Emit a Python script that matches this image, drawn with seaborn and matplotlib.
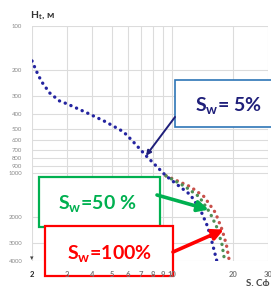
import matplotlib
matplotlib.use("Agg")
import matplotlib.pyplot as plt
import matplotlib.ticker as mticker
from matplotlib.patches import Rectangle
import seaborn as sns

# S_w = 5 % curve (x = S, y = H_t in metres)
sw5_s = [2.0, 2.11, 2.23, 2.45, 2.74, 3.0, 3.76, 4.66, 5.71, 6.26, 7.4, 9.3,
         10.6, 12.3, 13.8, 15.0, 15.8, 16.7]
sw5_h = [173, 205, 239, 286, 324, 340, 391, 450, 526, 597, 766, 1050,
         1208, 1413, 1786, 2328, 2993, 4030]

# S_w = 50 % and 100 % split off the 5 % curve near 1000 m
sw50_s = [9.3, 11.6, 13.6, 15.4, 16.7, 17.7, 18.2]
sw50_h = [1050, 1245, 1456, 1871, 2365, 3090, 3914]
sw100_s = [9.3, 12.3, 14.4, 16.4, 17.7, 18.6, 19.2]
sw100_h = [1050, 1245, 1456, 1871, 2440, 3090, 3914]

x_ticks = [2, 3, 4, 5, 6, 7, 8, 9, 10, 20, 30]
y_ticks = [100, 200, 300, 400, 500, 600, 700, 800, 900, 1000, 2000, 3000, 4000]

W, H = 271, 286

sns.set_style("white")
plt.rcParams["font.family"] = ["Lato", "DejaVu Sans"]
plt.rcParams["mathtext.fontset"] = "custom"
plt.rcParams["mathtext.rm"] = "Lato:bold"
plt.rcParams["mathtext.bf"] = "Lato:bold"

fig = plt.figure(figsize=(W / 100, H / 100), dpi=100)
rect = [32 / W, 1 - 261 / H, 236 / W, 235 / H]
ax = fig.add_axes(rect)


def px(x, y):
    return (x / W, 1 - y / H)


dots = dict(linestyle=(0, (0.05, 1.8)), dash_capstyle="round", linewidth=2.4)
sns.lineplot(x=sw100_s, y=sw100_h, sort=False, estimator=None, color="#C8504A", ax=ax, **dots)
sns.lineplot(x=sw50_s, y=sw50_h, sort=False, estimator=None, color="#4E8F55", ax=ax, **dots)
sns.lineplot(x=sw5_s, y=sw5_h, sort=False, estimator=None, color="#2424A0", ax=ax, **dots)

ax.set_xscale("log")
ax.set_yscale("log")
ax.set_xlim(2, 30)
ax.set_ylim(4000, 100)
ax.xaxis.set_major_locator(mticker.FixedLocator(x_ticks))
ax.xaxis.set_minor_locator(mticker.NullLocator())
ax.yaxis.set_major_locator(mticker.FixedLocator(y_ticks))
ax.yaxis.set_minor_locator(mticker.NullLocator())
ax.set_yticklabels([str(v) for v in y_ticks], fontsize=4.3, color="#8a8a8a")
ax.tick_params(axis="x", length=0, labelbottom=False)
ax.tick_params(axis="y", length=0, pad=7)
ax.grid(True, color="#dcdcdc", linewidth=0.8)
for s in ax.spines.values():
    s.set_visible(False)
ax.set_xlabel("")
ax.set_ylabel("")
ax.text(2, 4000, "▾", ha="center", va="bottom", fontsize=5, color="#444444",
        family="DejaVu Sans")

# overlay axes (above the boxes) for x tick labels and arrows
ax2 = fig.add_axes(rect, sharex=ax, sharey=ax, zorder=10)
ax2.patch.set_visible(False)
ax2.grid(False)
for s in ax2.spines.values():
    s.set_visible(False)
ax2.set_xticklabels([str(v) for v in x_ticks], fontsize=5.5, fontweight="bold", color="#777777")
ax2.get_xticklabels()[0].set_color("#222222")
ax2.tick_params(axis="x", length=0, pad=7.5)
ax2.tick_params(axis="y", length=0, labelleft=False)

fig.text(*px(30, 18), r"H$_\mathregular{t}$, м", fontsize=7.5, fontweight="bold", color="#333333")
fig.text(*px(246, 279), "S, Сф", fontsize=7, fontweight="bold", color="#4a4a4a",
         va="top")

# annotation boxes
boxes = [
    (175, 80, 110, 47, "#2E75B6", 1.2, "S$_\\mathregular{w}$= 5%", "#1F1F7A", 195, 112),
    (39, 177, 121, 50, "#00B050", 1.6, "S$_\\mathregular{w}$=50 %", "#00B050", 58, 210),
    (45, 226, 128, 50, "#FF0000", 1.6, "S$_\\mathregular{w}$=100%", "#FF0000", 67, 260),
]
for bx, by, bw, bh, ec, lw, label, tc, tx, ty in boxes:
    fig.add_artist(Rectangle(px(bx, by + bh), bw / W, bh / H, transform=fig.transFigure,
                             facecolor="white", edgecolor=ec, linewidth=lw, zorder=5))
    fig.text(*px(tx, ty), label, fontsize=14, fontweight="bold", color=tc,
             va="baseline", ha="left", zorder=6)

# arrows from the boxes to the curves
arrows = [
    ((7.4, 766), (175, 117), "#1F1F7A", 1.4, 7),
    ((15.2, 1786), (157, 195), "#00B050", 2.6, 16),
    ((18.06, 2444), (173, 252), "#FF0000", 2.6, 16),
]
for tip, start, col, lw, ms in arrows:
    ax2.annotate("", xy=tip, xycoords="data", xytext=px(*start), textcoords="figure fraction",
                 arrowprops=dict(arrowstyle="-|>", color=col, lw=lw, mutation_scale=ms,
                                 shrinkA=0, shrinkB=0))

fig.savefig("out.png", dpi=100)
